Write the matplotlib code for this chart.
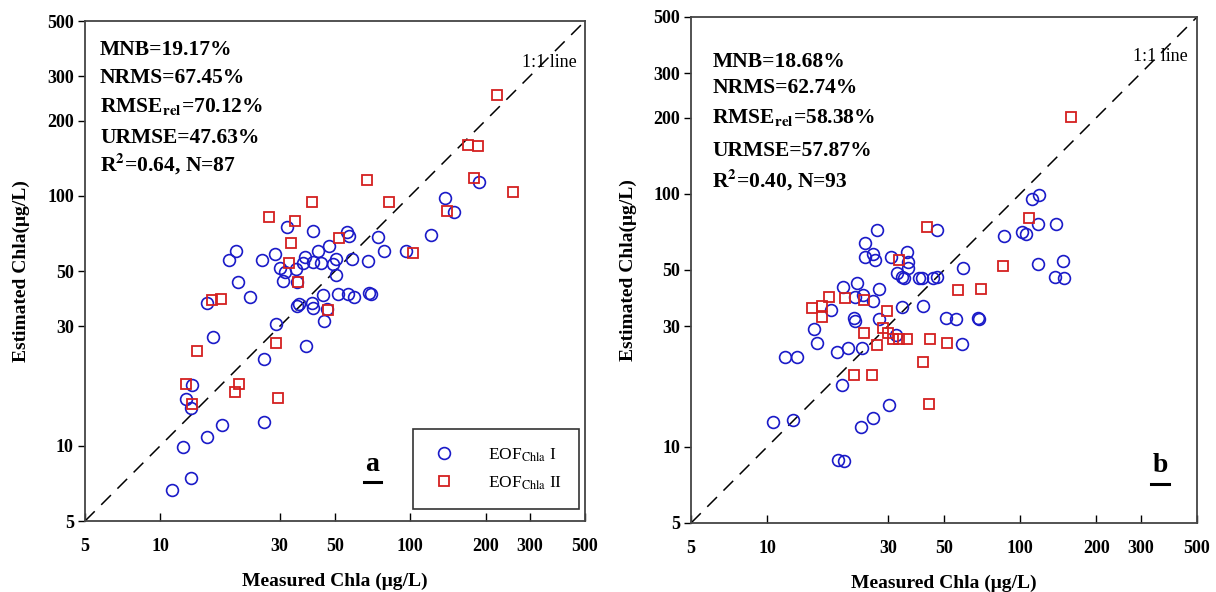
import numpy as np
import matplotlib
matplotlib.use("Agg")
from matplotlib import pyplot as plt
from matplotlib.lines import Line2D

plt.rcParams['font.family'] = ['Liberation Serif', 'DejaVu Serif']
plt.rcParams['mathtext.fontset'] = 'stix'

# panel a: EOF_Chla I (circles) and EOF_Chla II (squares)
a1_meas = [188, 138, 150, 32.1, 40.8, 55.8, 56.9, 74.3, 121, 47.3, 20.1, 18.8, 28.8, 25.5,
           37.9, 42.8, 40.8, 44, 37.2, 50.5, 49.1, 58.5, 67.8, 78.5, 96, 30.1, 31.5, 34.9,
           20.5, 31, 50.5, 35.2, 22.9, 44.8, 51.4, 56.4, 59.6, 68.4, 69.7, 15.4, 35.2, 35.9,
           40.5, 40.8, 46.4, 45.2, 29, 16.3, 38.3, 26, 13.4, 12.7, 13.3, 17.7, 26, 15.4,
           12.3, 13.3, 11.1]
a1_est = [114, 98, 86, 75, 72, 71.6, 69, 68.4, 69.7, 63, 60, 55.3, 58.5, 55.3,
          56.9, 60, 54.3, 53.8, 53.8, 55.8, 53.3, 55.8, 54.8, 60, 60, 51.4, 49.5, 50.9,
          45.2, 45.6, 48.2, 45.2, 39.4, 40.1, 40.5, 40.5, 39.4, 40.8, 40.5, 37.2, 36.2, 37,
          37.2, 35.6, 35.2, 31.5, 30.7, 27.2, 25.1, 22.2, 17.5, 15.4, 14.2, 12.1, 12.4, 10.8,
          9.9, 7.4, 6.65]
a2_meas = [222, 170, 187, 180, 258, 140, 82, 67, 40.5, 27.2, 34.6, 52, 33.3, 103,
           32.7, 35.6, 16.1, 17.5, 46.9, 29, 14, 12.7, 20.7, 19.9, 29.6, 13.4]
a2_est = [253, 160, 158, 118, 104, 87, 94, 116, 94, 82, 79, 68, 65, 59,
          54, 45, 38.3, 38.5, 35, 25.8, 24, 17.7, 17.7, 16.4, 15.5, 14.7]

# panel b
b1_meas = [119, 111, 118, 139, 46.9, 27.2, 86.3, 101.6, 105.4, 24.4, 24.4, 26.2, 26.7, 30.8,
           35.7, 36, 36, 32.6, 34.1, 34.7, 39.8, 40.9, 45.3, 46.9, 59.4, 118, 148, 137,
           149, 20, 22.6, 27.7, 22.2, 23.9, 26.2, 17.9, 34.1, 41.3, 22, 22.2, 27.7, 51,
           55.7, 68, 68.7, 15.3, 32.3, 15.7, 20.9, 18.9, 23.7, 58.9, 11.8, 13.1, 19.8, 30.3,
           26.2, 23.5, 10.5, 12.6, 19.1, 20.1]
b1_est = [99, 95.5, 76, 76, 72, 72, 68, 70.6, 69.4, 64, 56.3, 57.8, 54.8, 56.3,
          58.9, 53.8, 51, 48.6, 46.9, 46.5, 46.5, 46.5, 46.5, 46.9, 51, 52.8, 54.3, 46.9,
          46.5, 42.8, 44.4, 42, 39.1, 39.8, 37.7, 34.7, 35.7, 36, 32.3, 31.4, 32, 32.3,
          32, 32.3, 32, 29.2, 27.7, 25.7, 24.6, 23.7, 24.6, 25.5, 22.6, 22.6, 17.5, 14.6,
          13, 12, 12.5, 12.8, 8.9, 8.8]
b2_meas = [159, 108, 42.8, 33.2, 85.5, 56.8, 70, 17.5, 20.3, 24.1, 15, 16.5, 16.5, 29.8,
           28.7, 30, 24.1, 31.4, 33.2, 35.7, 44, 51.4, 27.2, 41.3, 22, 26, 43.6]
b2_est = [201, 80, 74, 55, 52, 41.7, 42, 39, 38.7, 38, 35.4, 36, 32.6, 34.4,
          29.5, 28.2, 28.2, 26.7, 26.7, 26.7, 26.7, 25.7, 25.3, 21.6, 19.2, 19.2, 14.8]

stats_a = ['MNB=19.17%', 'NRMS=67.45%', r'RMSE$_\mathbf{rel}$=70.12%', 'URMSE=47.63%',
           r'R$^\mathbf{2}$=0.64, N=87']
stats_b = ['MNB=18.68%', 'NRMS=62.74%', r'RMSE$_\mathbf{rel}$=58.38%', 'URMSE=57.87%',
           r'R$^\mathbf{2}$=0.40, N=93']
ticks = [5, 10, 30, 50, 100, 200, 300, 500]

blue = '#1a1ac8'
red = '#d42020'

fig = plt.figure(figsize=(12.16, 5.92), dpi=100)
ax1 = fig.add_axes([0.0699, 0.1199, 0.4112, 0.8446])
ax2 = fig.add_axes([0.5683, 0.1166, 0.4161, 0.8547])


def setup(ax, c_x, c_y, s_x, s_y, stats, ys, tx, letter, lx, ly):
    ax.plot([5, 500], [5, 500], color='black', lw=1.1, dashes=(9, 6))
    h1, = ax.plot(c_x, c_y, 'o', ms=8.5, mfc='none', mec=blue, mew=1.2, ls='none')
    h2, = ax.plot(s_x, s_y, 's', ms=7.5, mfc='none', mec=red, mew=1.3, ls='none')
    ax.set_xscale('log')
    ax.set_yscale('log')
    ax.set_xlim(5, 500)
    ax.set_ylim(5, 500)
    ax.set_xticks(ticks)
    ax.set_yticks(ticks)
    ax.set_xticklabels([str(t) for t in ticks])
    ax.set_yticklabels([str(t) for t in ticks])
    ax.minorticks_off()
    ax.tick_params(axis='x', direction='in', length=6, width=1, pad=12)
    ax.tick_params(axis='y', direction='out', length=5, width=1, pad=3)
    for lab in ax.get_xticklabels() + ax.get_yticklabels():
        lab.set_fontsize(13)
        lab.set_fontweight('bold')
    for sp in ax.spines.values():
        sp.set_color('#444444')
        sp.set_linewidth(1.3)
    ax.set_xlabel('Measured Chla (\u03bcg/L)', fontsize=14, fontweight='bold', labelpad=13)
    ax.set_ylabel('Estimated Chla(\u03bcg/L)', fontsize=14, fontweight='bold', labelpad=12)
    for s, y in zip(stats, ys):
        ax.text(tx, y, s, transform=ax.transAxes, fontsize=15.5, fontweight='bold',
                va='center', ha='left')
    ax.text(lx, ly, letter, transform=ax.transAxes, fontsize=20, fontweight='bold',
            ha='center', va='baseline')
    ax.add_line(Line2D([lx - 0.017, lx + 0.017], [ly - 0.022, ly - 0.022],
                       transform=ax.transAxes, color='black', lw=2.2))
    return h1, h2


h1, h2 = setup(ax1, a1_meas, a1_est, a2_meas, a2_est, stats_a,
               [0.942, 0.886, 0.830, 0.766, 0.714], 0.03, 'a', 0.574, 0.1)
setup(ax2, b1_meas, b1_est, b2_meas, b2_est, stats_b,
      [0.911, 0.860, 0.802, 0.735, 0.678], 0.042, 'b', 0.927, 0.1)

ax1.text(0.874, 0.918, '1:1 line', transform=ax1.transAxes, fontsize=13, va='center')
ax2.text(0.873, 0.921, '1:1 line', transform=ax2.transAxes, fontsize=13, va='center')

leg = ax1.legend([h1, h2], [r'EOF$_\mathrm{Chla}$ I', r'EOF$_\mathrm{Chla}$ II'],
                 loc='lower right', bbox_to_anchor=(0.988, 0.024), fontsize=12.5,
                 fancybox=False, edgecolor='#333333', framealpha=1,
                 borderpad=1.0, labelspacing=0.6, handletextpad=1.8,
                 borderaxespad=0, handlelength=1.5)
leg.get_frame().set_linewidth(1.2)

fig.savefig('out.png', dpi=100)
